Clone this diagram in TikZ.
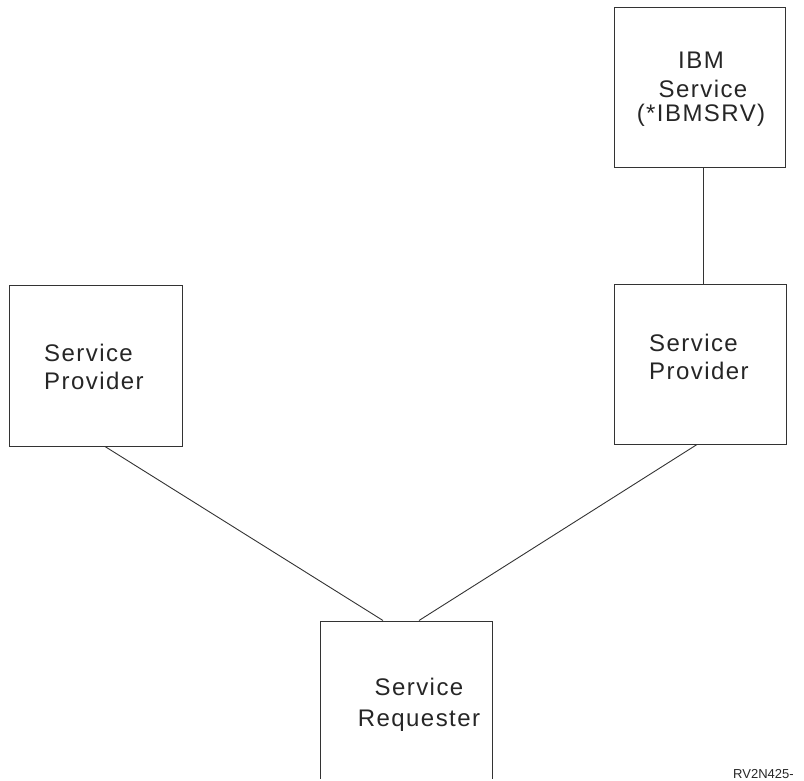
\documentclass[tikz,border=0pt]{standalone}
\usepackage{fontspec}
\setmainfont{Liberation Sans}[LetterSpace=6]
\newfontfamily\smallfont{Liberation Sans}
\begin{document}
\begin{tikzpicture}[x=1pt,y=-1pt,
  box/.style={draw=black!80,line width=1pt,rectangle,inner sep=0pt},
  conn/.style={draw=black!80,line width=0.9pt},
  txt/.style={inner sep=0pt,font=\fontsize{24}{28}\selectfont,text=black!85}]
\useasboundingbox (0,0) rectangle (804,780);
\begin{scope}
\clip (0,0) rectangle (804,778);
\node[box,minimum width=171pt,minimum height=160pt] (ibm) at (699.5,87) {};
\node[box,minimum width=173pt,minimum height=161pt] (spl) at (95.5,365.5) {};
\node[box,minimum width=172pt,minimum height=160pt] (spr) at (700,364) {};
\node[box,minimum width=172pt,minimum height=180pt] (req) at (406,711) {};
\end{scope}
\node[txt,anchor=base] (ibm1) at (701,68) {IBM};
\node[txt,anchor=base] (ibm2) at (703,97) {Service};
\node[txt,anchor=base] (ibm3) at (701,121) {(*IBMSRV)};
\node[txt,anchor=base west] (spl1) at (44,361) {Service};
\node[txt,anchor=base west] (spl2) at (44,389) {Provider};
\node[txt,anchor=base west] (spr1) at (649,351) {Service};
\node[txt,anchor=base west] (spr2) at (649,379) {Provider};
\node[txt,anchor=base] (req1) at (419,695) {Service};
\node[txt,anchor=base] (req2) at (419,726) {Requester};
\node[inner sep=0pt,anchor=base west,font=\smallfont\fontsize{13}{15}\selectfont,text=black!85] (fig) at (733,778) {RV2N425-};
\draw[conn] (ibm.south -| 703,0) -- (spr.north -| 703,0);
\draw[conn] (spl.south -| 105,0) -- (req.north -| 383,0);
\draw[conn] (spr.south -| 697,0) -- (req.north -| 419,0);
\end{tikzpicture}
\end{document}
